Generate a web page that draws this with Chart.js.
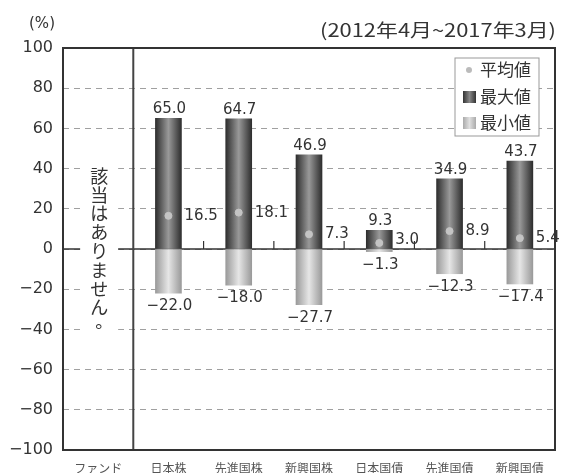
<!DOCTYPE html>
<html>
<head>
<meta charset="utf-8">
<script src="https://cdn.jsdelivr.net/npm/chart.js@4"></script>
<style>
  html, body { margin: 0; padding: 0; background: #fff; }
  #wrap { width: 563px; height: 473px; }
</style>
</head>
<body>
<div id="wrap"><canvas id="chart"></canvas></div>
<script>
const categories = ["ファンド", "日本株", "先進国株", "新興国株", "日本国債", "先進国債", "新興国債"];
const maxValues = [null, 65.0, 64.7, 46.9, 9.3, 34.9, 43.7];
const minValues = [null, -22.0, -18.0, -27.7, -1.3, -12.3, -17.4];
const avgValues = [null, 16.5, 18.1, 7.3, 3.0, 8.9, 5.4];
const legendLabels = ["平均値", "最大値", "最小値"];
const periodText = "(2012年4月~2017年3月)";
const noneText = "該当はありません。";

const JP = "'Noto Sans CJK JP', 'Noto Sans', sans-serif";
const NUM = "'DejaVu Sans', 'Noto Sans CJK JP', sans-serif";
const BAR_W = 26;

const fmt = v => v.toFixed(1).replace("-", "\u2212");

const barGradient = (dark, light) => (c) => {
    const ch = c.chart;
    const xs = ch.scales.x;
    if (!xs || !ch.chartArea) return dark;
    const cx = xs.getPixelForValue(c.dataIndex);
    const g = ch.ctx.createLinearGradient(cx - BAR_W / 2, 0, cx + BAR_W / 2, 0);
    g.addColorStop(0, dark);
    g.addColorStop(0.5, light);
    g.addColorStop(1, dark);
    return g;
};

// draw text squeezed/stretched to a given width
const fitText = (ctx, text, right, y, width) => {
    const w = ctx.measureText(text).width;
    ctx.save();
    ctx.translate(right - width, y);
    ctx.scale(width / w, 1);
    ctx.textAlign = "left";
    ctx.fillText(text, 0, 0);
    ctx.restore();
};

const decorPlugin = {
    id: "decor",
    beforeDatasetsDraw(chart) {
        const { ctx, chartArea: a, scales: { x, y } } = chart;
        const y0 = y.getPixelForValue(0);
        ctx.save();
        // zero line
        ctx.strokeStyle = "#333";
        ctx.lineWidth = 1.5;
        ctx.beginPath();
        ctx.moveTo(a.left, y0);
        ctx.lineTo(a.right, y0);
        ctx.stroke();
        // small ticks between categories
        ctx.lineWidth = 1.2;
        for (let i = 1; i < categories.length - 1; i++) {
            const bx = (x.getPixelForValue(i) + x.getPixelForValue(i + 1)) / 2;
            ctx.beginPath();
            ctx.moveTo(bx, y0);
            ctx.lineTo(bx, y0 - 8);
            ctx.stroke();
        }
        // separator for the fund column
        const sx = (x.getPixelForValue(0) + x.getPixelForValue(1)) / 2;
        ctx.strokeStyle = "#444";
        ctx.lineWidth = 2;
        ctx.beginPath();
        ctx.moveTo(sx, a.top);
        ctx.lineTo(sx, a.bottom);
        ctx.stroke();
        // vertical note in fund column
        const nx = x.getPixelForValue(0) + 1;
        const chars = Array.from(noneText);
        const step = 18.8;
        const startY = 176;
        ctx.fillStyle = "#fff";
        ctx.fillRect(nx - 19, startY - 11, 38, step * chars.length + 4);
        ctx.fillStyle = "#333";
        ctx.font = "18px " + JP;
        ctx.textAlign = "center";
        ctx.textBaseline = "middle";
        chars.forEach((ch, i) => {
            if (ch === "。") {
                ctx.fillText(ch, nx + 5, startY + i * step - 5);
            } else {
                ctx.fillText(ch, nx, startY + i * step);
            }
        });
        ctx.restore();
    },
    afterDraw(chart) {
        const { ctx, chartArea: a } = chart;
        ctx.save();
        // plot frame
        ctx.strokeStyle = "#333";
        ctx.lineWidth = 2;
        ctx.strokeRect(a.left, a.top, a.right - a.left, a.bottom - a.top);
        // unit and period
        ctx.fillStyle = "#333";
        ctx.font = "15px " + NUM;
        ctx.textBaseline = "middle";
        ctx.textAlign = "center";
        ctx.fillText("(%)", 42, 24);
        ctx.font = "18px " + JP;
        fitText(ctx, periodText, 556, 30, 236);
        // legend box
        const lx = 455, ly = 58, lw = 84, lh = 78;
        ctx.fillStyle = "#fff";
        ctx.fillRect(lx, ly, lw, lh);
        ctx.strokeStyle = "#999";
        ctx.lineWidth = 1;
        ctx.strokeRect(lx, ly, lw, lh);
        ctx.font = "17px " + JP;
        ctx.textAlign = "left";
        const rows = [70, 97, 123];
        // avg marker
        ctx.fillStyle = "#bbb";
        ctx.beginPath();
        ctx.arc(lx + 14, rows[0], 3, 0, Math.PI * 2);
        ctx.fill();
        const sw = (yy, dark, light) => {
            const g = ctx.createLinearGradient(lx + 8, 0, lx + 21, 0);
            g.addColorStop(0, dark); g.addColorStop(0.5, light); g.addColorStop(1, dark);
            ctx.fillStyle = g;
            ctx.fillRect(lx + 8, yy - 6, 13, 12);
        };
        sw(rows[1], "#333", "#888");
        sw(rows[2], "#aaa", "#e0e0e0");
        ctx.fillStyle = "#333";
        legendLabels.forEach((t, i) => ctx.fillText(t, lx + 25, rows[i]));
        ctx.restore();
    },
    afterDatasetsDraw(chart) {
        const { ctx, scales: { x, y } } = chart;
        ctx.save();
        ctx.fillStyle = "#333";
        ctx.font = "15px " + NUM;
        ctx.textAlign = "center";
        ctx.textBaseline = "middle";
        maxValues.forEach((v, i) => {
            if (v === null) return;
            const cx = x.getPixelForValue(i) + 1;
            ctx.fillText(fmt(v), cx, y.getPixelForValue(v) - 9);
            const mn = minValues[i];
            ctx.fillText(fmt(mn), cx, y.getPixelForValue(mn) + 13);
            const av = avgValues[i];
            ctx.textAlign = "left";
            ctx.fillText(fmt(av), cx + BAR_W / 2 + 2, Math.min(y.getPixelForValue(av), y.getPixelForValue(0) - 9));
            ctx.textAlign = "center";
        });
        ctx.restore();
    }
};

new Chart(document.getElementById("chart"), {
    type: "bar",
    data: {
        labels: categories,
        datasets: [
            {
                type: "line",
                label: legendLabels[0],
                data: avgValues,
                showLine: false,
                stack: "avg",
                pointStyle: "circle",
                pointRadius: 3.5,
                pointBackgroundColor: "#c4c4c4",
                pointBorderColor: "#c4c4c4",
                order: 0
            },
            {
                label: legendLabels[1],
                data: maxValues,
                stack: "mm",
                backgroundColor: barGradient("#2e2e2e", "#999"),
                barThickness: BAR_W,
                order: 1
            },
            {
                label: legendLabels[2],
                data: minValues,
                stack: "mm",
                backgroundColor: barGradient("#9a9a9a", "#e6e6e6"),
                barThickness: BAR_W,
                order: 1
            }
        ]
    },
    options: {
        responsive: true,
        maintainAspectRatio: false,
        animation: false,
        layout: { padding: { top: 48, right: 8, left: 0, bottom: 0 } },
        plugins: {
            legend: { display: false },
            tooltip: { enabled: false }
        },
        scales: {
            x: {
                stacked: true,
                grid: { display: false, drawTicks: false, tickLength: 0 },
                border: { display: false },
                ticks: {
                    color: "#555",
                    font: { family: JP, size: 12 },
                    padding: 11,
                    maxRotation: 0,
                    autoSkip: false
                },
                afterFit: s => { s.height = 23; }
            },
            y: {
                stacked: true,
                min: -100,
                max: 100,
                grid: {
                    color: "#a0a0a0",
                    drawTicks: false,
                    lineWidth: 1
                },
                border: { display: false, dash: [6, 5] },
                ticks: {
                    stepSize: 20,
                    color: "#333",
                    padding: 10,
                    font: { family: NUM, size: 16 },
                    callback: v => String(v).replace("-", "\u2212")
                },
                afterFit: s => { s.width = 63; }
            }
        }
    },
    plugins: [decorPlugin]
});
</script>
</body>
</html>
